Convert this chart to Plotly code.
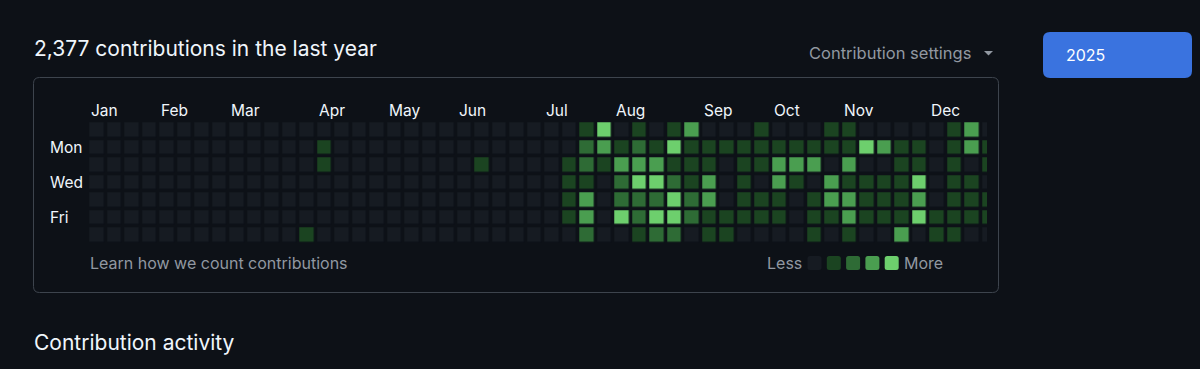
import plotly.graph_objects as go

W, H = 1200, 369

# ---------------- data ----------------
weekday_names = ["Sun", "Mon", "Tue", "Wed", "Thu", "Fri", "Sat"]
row_labels = {1: "Mon", 3: "Wed", 5: "Fri"}
month_names = ["Jan", "Feb", "Mar", "Apr", "May", "Jun", "Jul", "Aug", "Sep", "Oct", "Nov", "Dec"]
month_cols = [0, 4, 8, 13, 17, 21, 26, 30, 35, 39, 43, 48]
n_weeks = 52

# contribution level per week (column index -> level 1..4), one dict per weekday row
sun = {28: 1, 29: 4, 31: 1, 33: 1, 34: 3, 38: 1, 42: 1, 43: 1, 49: 1, 50: 3}
mon = {13: 1, 28: 2, 29: 3, 30: 1, 31: 2, 32: 1, 33: 4, 34: 1, 35: 1, 36: 1, 37: 1, 38: 1,
       39: 1, 40: 1, 41: 1, 42: 1, 43: 1, 44: 4, 45: 3, 46: 1, 47: 1, 49: 1, 50: 3, 51: 1}
tue = {13: 1, 22: 1, 27: 1, 28: 2, 29: 1, 30: 3, 31: 3, 32: 3, 33: 1, 34: 1, 35: 1, 37: 1,
       38: 1, 39: 3, 40: 3, 41: 3, 43: 3, 46: 1, 47: 1, 49: 1, 51: 1}
wed = {27: 1, 28: 1, 30: 2, 31: 4, 32: 4, 33: 2, 34: 1, 35: 3, 37: 1, 39: 3, 40: 1, 42: 3,
       43: 1, 44: 1, 45: 1, 46: 1, 47: 4, 49: 1, 50: 1}
thu = {27: 1, 28: 3, 30: 2, 31: 2, 32: 2, 33: 4, 34: 2, 35: 3, 37: 1, 38: 1, 39: 1, 41: 1,
       42: 3, 43: 3, 44: 1, 45: 1, 46: 1, 47: 3, 49: 1, 50: 1, 51: 1}
fri = {27: 1, 28: 3, 30: 4, 31: 2, 32: 4, 33: 4, 34: 2, 35: 1, 36: 1, 37: 1, 38: 1, 39: 1,
       41: 1, 42: 1, 43: 3, 44: 1, 45: 1, 46: 1, 47: 4, 48: 1, 49: 1, 50: 1, 51: 1}
sat = {12: 1, 28: 2, 31: 1, 32: 2, 33: 2, 35: 1, 36: 1, 41: 1, 43: 1, 46: 3, 48: 1, 49: 1}

level_colors = ["#161b22", "#1b4421", "#2e6b35", "#4a9e50", "#6dcf6d"]

# ---------------- figure ----------------
rows = [sun, mon, tue, wed, thu, fri, sat]
z = [[r.get(c, 0) for c in range(n_weeks)] for r in rows]


def px(x):
    return x / W


def py(y):
    return 1 - y / H


step = 17.5
x0_center = 97.0
y0_center = 130.0
x_right_px = 987.0
x_range = [-0.5, (x_right_px - x0_center) / step]
x_dom = [px(x0_center - step / 2), px(x_right_px)]
y_dom = [py(y0_center + 6.5 * step), py(y0_center - step / 2)]

colorscale = [[i / 4, c] for i, c in enumerate(level_colors)]

fig = go.Figure()
fig.add_trace(go.Heatmap(
    z=z, x=list(range(n_weeks)), y=list(range(7)),
    zmin=0, zmax=4, colorscale=colorscale, showscale=False,
    xgap=3.5, ygap=3.5, hoverinfo="skip",
))

text_main = "#f0f6fc"
text_muted = "#9198a1"
font_family = "Inter, Roboto, 'DejaVu Sans', sans-serif"

ann = []


def label(text, x, y, size, color, xref="paper", yref="paper"):
    ann.append(dict(text=text, x=x, y=y, xref=xref, yref=yref,
                    xanchor="left", yanchor="middle", showarrow=False,
                    font=dict(size=size, color=color, family=font_family)))


label("2,377 contributions in the last year", px(31.5), py(48), 21, text_main)
label("Contribution settings", px(806.5), py(53), 16.5, text_muted)
label("2025", px(1063.5), py(55), 16, "#ffffff")
for name, col in zip(month_names, month_cols):
    label(name, col - 0.45, py(110), 15.5, text_main, xref="x")
for r, name in row_labels.items():
    label(name, px(47.5), r, 15.5, text_main, yref="y")
label("Learn how we count contributions", px(87.5), py(263), 16, text_muted)
label("Less", px(764.5), py(263), 16, text_muted)
label("More", px(901.5), py(263), 16, text_muted)
label("Contribution activity", px(31.5), py(342), 21, text_main)


def rounded_rect(x0, y0, x1, y1, r):
    X0, X1 = px(x0), px(x1)
    Y0, Y1 = py(y0), py(y1)
    rx, ry = r / W, r / H
    return (f"M {X0+rx},{Y0} L {X1-rx},{Y0} Q {X1},{Y0} {X1},{Y0-ry} "
            f"L {X1},{Y1+ry} Q {X1},{Y1} {X1-rx},{Y1} L {X0+rx},{Y1} "
            f"Q {X0},{Y1} {X0},{Y1+ry} L {X0},{Y0-ry} Q {X0},{Y0} {X0+rx},{Y0} Z")


shapes = []
shapes.append(dict(type="path", xref="paper", yref="paper", path=rounded_rect(33.5, 77.5, 998.5, 292.5, 6),
                   line=dict(color="#3d444d", width=1), fillcolor="rgba(0,0,0,0)", layer="below"))
shapes.append(dict(type="path", xref="paper", yref="paper", path=rounded_rect(1043, 32, 1192, 78, 7),
                   line=dict(width=0), fillcolor="#3a73df", layer="below"))
shapes.append(dict(type="path", xref="paper", yref="paper",
                   path=f"M {px(984)},{py(51)} L {px(993)},{py(51)} L {px(988.5)},{py(55.5)} Z",
                   line=dict(width=0), fillcolor=text_muted))
for i, c in enumerate(level_colors):
    lx = 807.5 + i * 19.3
    shapes.append(dict(type="path", xref="paper", yref="paper",
                       path=rounded_rect(lx, 256, lx + 14, 270, 2.5),
                       line=dict(width=0), fillcolor=c))

fig.update_layout(
    width=W, height=H, margin=dict(l=0, r=0, t=0, b=0),
    paper_bgcolor="#0d1117", plot_bgcolor="#0d1117",
    xaxis=dict(domain=x_dom, range=x_range, visible=False, fixedrange=True),
    yaxis=dict(domain=y_dom, range=[6.5, -0.5], visible=False, fixedrange=True),
    annotations=ann, shapes=shapes, showlegend=False,
)

fig.write_html("out.html", config={"displayModeBar": False},
               post_script="document.body.style.margin='0';document.body.style.overflow='hidden';")
